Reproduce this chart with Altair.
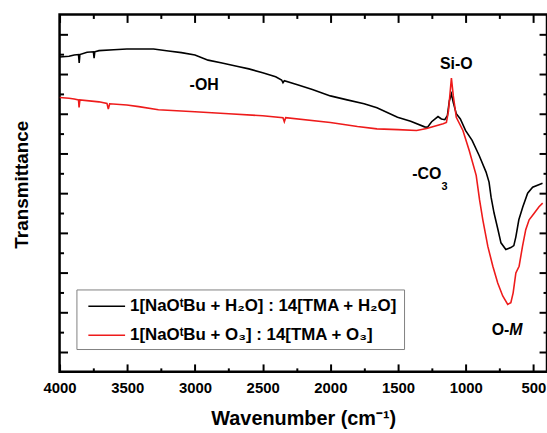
import altair as alt
import pandas as pd

FONT = "Liberation Sans"

# ---- data ----
black_wn = [4000, 3930, 3892, 3860, 3855, 3850, 3797, 3750, 3745, 3740, 3709, 3600, 3503,
            3408, 3306, 3196, 3100, 3000, 2903, 2800, 2683, 2602, 2500, 2404, 2360, 2350,
            2340, 2243, 2133, 2000, 1876, 1751, 1656, 1504, 1407, 1304, 1282, 1252, 1205,
            1180, 1155, 1136, 1121, 1106, 1092, 1070, 1040, 1002, 953, 901, 850, 828, 813,
            791, 762, 740, 704, 667, 645, 630, 608, 579, 543, 506, 433]
black_t = [7.93, 7.95, 7.98, 7.99, 7.78, 7.99, 8.05, 8.06, 7.90, 8.06, 8.09, 8.11, 8.13,
           8.13, 8.13, 8.08, 8.04, 7.98, 7.85, 7.78, 7.69, 7.63, 7.53, 7.43, 7.35, 7.28,
           7.33, 7.23, 7.11, 6.95, 6.85, 6.75, 6.65, 6.41, 6.31, 6.17, 6.16, 6.30, 6.43,
           6.37, 6.35, 6.45, 6.83, 7.00, 6.78, 6.50, 6.37, 6.08, 5.83, 5.45, 5.03, 4.78, 4.40,
           4.00, 3.58, 3.25, 3.08, 3.13, 3.18, 3.40, 3.83, 4.15, 4.50, 4.65, 4.75]

red_wn = [4000, 3930, 3892, 3860, 3856, 3850, 3709, 3650, 3640, 3630, 3503, 3415, 3270,
          3000, 2750, 2500, 2350, 2340, 2330, 2000, 1800, 1656, 1500, 1363, 1289, 1167,
          1143, 1128, 1106, 1092, 1070, 1021, 975, 923, 898, 874, 837, 800, 764, 727, 690,
          667, 650, 630, 606, 581, 557, 532, 496, 459, 432]
red_t = [6.91, 6.89, 6.87, 6.85, 6.66, 6.85, 6.80, 6.76, 6.62, 6.75, 6.72, 6.68, 6.60,
         6.55, 6.50, 6.45, 6.40, 6.30, 6.40, 6.28, 6.18, 6.12, 6.10, 6.08, 6.13, 6.25,
         6.28, 6.56, 7.40, 6.95, 6.41, 6.08, 5.58, 4.95, 4.33, 3.83, 3.16, 2.66, 2.24, 1.91,
         1.70, 1.74, 1.99, 2.49, 2.66, 3.16, 3.58, 3.83, 3.99, 4.16, 4.25]

series_names = ["1[NaOᵗBu + H₂O] : 14[TMA + H₂O]", "1[NaOᵗBu + O₃] : 14[TMA + O₃]"]
series_colors = ["#000000", "#ee1b1b"]

x_major = [4000, 3500, 3000, 2500, 2000, 1500, 1000, 500]
x_minor = [3750, 3250, 2750, 2250, 1750, 1250, 750]
y_major = [0.5, 1.5, 2.5, 3.5, 4.5, 5.5, 6.5, 7.5, 8.5]
y_minor = [1, 2, 3, 4, 5, 6, 7, 8]

ann_center_text = ["-OH", "Si-O"]
ann_center_wn = [2932, 1070]
ann_center_t = [7.22, 7.75]

ann_right_text = ["-CO", "O-"]
ann_right_wn = [1180, 678]
ann_right_t = [4.98, 1.05]

ann_sub_text = ["3"]
ann_sub_wn = [1180]
ann_sub_t = [4.80]

ann_ital_text = ["M"]
ann_ital_wn = [678]
ann_ital_t = [1.05]

# ---- tables ----
df = pd.concat([
    pd.DataFrame({"wn": black_wn, "t": black_t, "series": series_names[0]}),
    pd.DataFrame({"wn": red_wn, "t": red_t, "series": series_names[1]}),
], ignore_index=True)

xs = alt.Scale(domain=[4000, 400], nice=False, zero=False)
ys = alt.Scale(domain=[0, 9], nice=False, zero=False)

tick_common = dict(domain=False, grid=False, tickColor="black", tickWidth=2)


def x_axis(orient, values, size, labels=False, title=None):
    kw = dict(orient=orient, values=values, tickSize=size, offset=-size, labels=labels, **tick_common)
    if labels:
        kw.update(labelFont=FONT, labelFontSize=15, labelFontWeight="bold", labelColor="black",
                  labelPadding=9, format="d", labelFlush=False)
    if title:
        kw.update(title=title, titleFont=FONT, titleFontSize=20, titleFontWeight="bold",
                  titleColor="black", titlePadding=13)
    else:
        kw.update(title=None)
    return alt.Axis(**kw)


def y_axis(orient, values, size, title=None):
    kw = dict(orient=orient, values=values, tickSize=size, offset=-size, labels=False, **tick_common)
    if title:
        kw.update(title=title, titleFont=FONT, titleFontSize=19, titleFontWeight="bold",
                  titleColor="black", titlePadding=27, titleY=171)
    else:
        kw.update(title=None)
    return alt.Axis(**kw)


lines = alt.Chart(df).mark_line(strokeWidth=1.6, clip=True).encode(
    x=alt.X("wn:Q", scale=xs, axis=x_axis("bottom", x_major, 8, labels=True, title="Wavenumber (cm⁻¹)")),
    y=alt.Y("t:Q", scale=ys, axis=y_axis("left", y_major, 8, title="Transmittance")),
    color=alt.Color("series:N", title=None,
                    scale=alt.Scale(domain=series_names, range=series_colors),
                    legend=alt.Legend(orient="none", legendX=17, legendY=277, direction="vertical",
                                      labelFont=FONT, labelFontSize=17, labelFontWeight="bold",
                                      labelColor="black", labelLimit=500,
                                      symbolType="M-0.5,0H3.2", symbolSize=400,
                                      symbolStrokeWidth=1.5, strokeColor="#808080",
                                      fillColor="white", padding=6, rowPadding=10, labelOffset=26)),
    detail="series:N",
)


def ghost(xax, yax):
    return alt.Chart(df).mark_line(opacity=0).encode(
        x=alt.X("wn:Q", scale=xs, axis=xax),
        y=alt.Y("t:Q", scale=ys, axis=yax),
        detail="series:N",
    )


g1 = ghost(x_axis("bottom", x_minor, 4), y_axis("left", y_minor, 4))
g2 = ghost(x_axis("top", x_major, 8), y_axis("right", y_major, 8))
g3 = ghost(x_axis("top", x_minor, 4), y_axis("right", y_minor, 4))

txt = dict(font=FONT, fontWeight="bold", fontSize=16, color="black")

a1 = alt.Chart(pd.DataFrame({"s": ann_center_text, "wn": ann_center_wn, "t": ann_center_t})).mark_text(
    align="center", baseline="middle", **txt).encode(
    x=alt.X("wn:Q", scale=xs, axis=None), y=alt.Y("t:Q", scale=ys, axis=None), text="s:N")
a2 = alt.Chart(pd.DataFrame({"s": ann_right_text, "wn": ann_right_wn, "t": ann_right_t})).mark_text(
    align="right", baseline="middle", **txt).encode(
    x=alt.X("wn:Q", scale=xs, axis=None), y=alt.Y("t:Q", scale=ys, axis=None), text="s:N")
a3 = alt.Chart(pd.DataFrame({"s": ann_sub_text, "wn": ann_sub_wn, "t": ann_sub_t})).mark_text(
    align="left", baseline="top", font=FONT, fontWeight="bold", fontSize=11, color="black").encode(
    x=alt.X("wn:Q", scale=xs, axis=None), y=alt.Y("t:Q", scale=ys, axis=None), text="s:N")
a4 = alt.Chart(pd.DataFrame({"s": ann_ital_text, "wn": ann_ital_wn, "t": ann_ital_t})).mark_text(
    align="left", baseline="middle", fontStyle="italic", **txt).encode(
    x=alt.X("wn:Q", scale=xs, axis=None), y=alt.Y("t:Q", scale=ys, axis=None), text="s:N")

chart = alt.layer(lines, g1, g2, g3, a1, a2, a3, a4).resolve_axis(
    x="independent", y="independent"
).properties(
    width=491, height=360,
    autosize=alt.AutoSizeParams(type="none"),
    padding={"left": 60, "top": 13, "right": 0, "bottom": 60},
    background="white",
).configure_view(stroke="black", strokeWidth=2.5)

chart.save("out.html", embed_options={"renderer": "svg", "actions": False})
